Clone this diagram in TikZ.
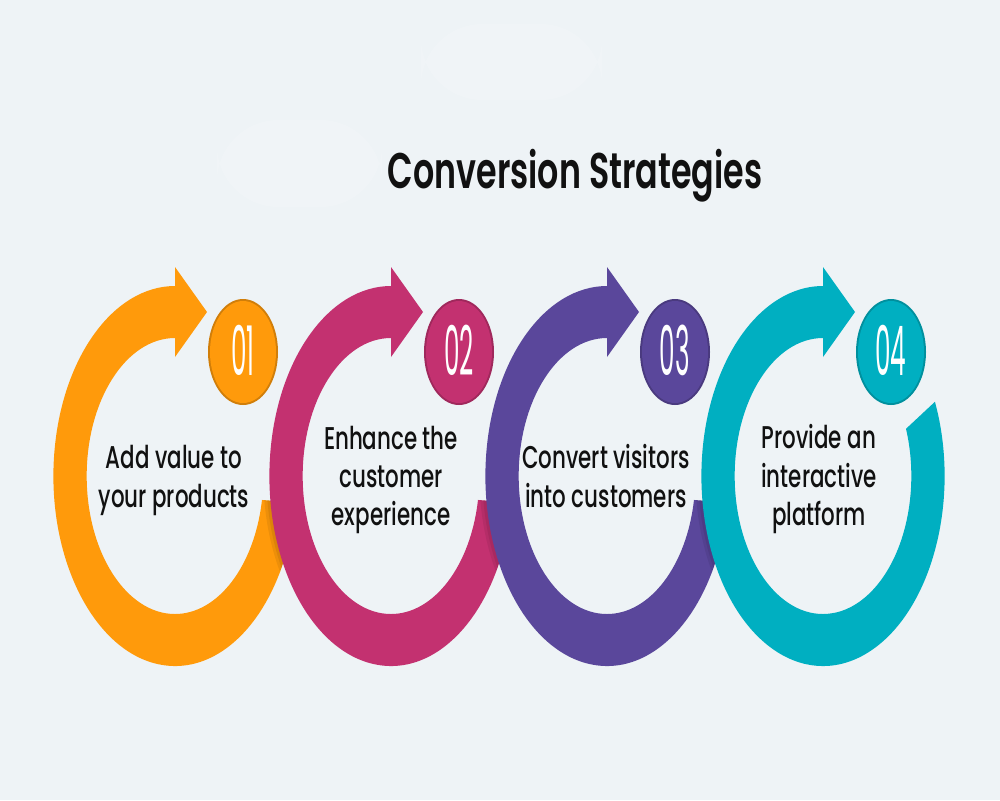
\documentclass[tikz,border=0pt]{standalone}
\usepackage{fontspec}
\setmainfont{Poppins}
\newfontfamily\bodyfont{Poppins Medium}
\newfontfamily\titlefont{Poppins SemiBold}
\definecolor{bg}{HTML}{EEF3F6}
\definecolor{cA}{HTML}{FF9A0B}
\definecolor{cB}{HTML}{C33170}
\definecolor{cC}{HTML}{5A479B}
\definecolor{cD}{HTML}{00AFC1}
\definecolor{txt}{HTML}{111111}
\newcommand\ringpath[2]{(#1:190) arc[start angle=#1, end angle=-270, radius=190] -- (0,209) -- (50,164) -- (0,119) -- (0,138) arc[start angle=-270, end angle=#2, radius=138] -- cycle}
\tikzset{
  ringat/.style={shift={(#1,-476)}, xscale=0.64},
  body/.style={font=\bodyfont\fontsize{17.9}{20}\selectfont, xscale=0.68, text=txt, inner sep=0pt, anchor=base},
  titlest/.style={font=\titlefont\fontsize{28.5}{32}\selectfont, xscale=0.665, text=txt, inner sep=0pt, anchor=base},
  numst/.style={font=\fontsize{39}{40}\selectfont, xscale=0.36, text=white, inner sep=0pt, anchor=base},
  blob/.style={fill=white, opacity=0.14, rounded corners=35pt}
}
\begin{document}
\begin{tikzpicture}[x=0.2mm, y=0.2mm]
\fill[bg] (0,0) rectangle (1000,-800);
\useasboundingbox (0,0) rectangle (1000,-800);
% faint blobs
\fill[blob] (421,-24) rectangle (602,-100);
\fill[blob] (217,-120) rectangle (382,-207);
% ring 1
\fill[cA, ringat=175] \ringpath{-8}{-10};
% shadow of ring 2 on ring 1
\begin{scope}
  \clip[ringat=175] \ringpath{-8}{-10};
  \fill[black, opacity=0.07, ringat=385] \ringpath{-8}{-10};
  \fill[black, opacity=0.07, ringat=388] \ringpath{-8}{-10};
\end{scope}
\fill[cB, ringat=391] \ringpath{-8}{-10};
\begin{scope}
  \clip[ringat=391] \ringpath{-8}{-10};
  \fill[black, opacity=0.07, ringat=601] \ringpath{-8}{-10};
  \fill[black, opacity=0.07, ringat=604] \ringpath{-8}{-10};
\end{scope}
\fill[cC, ringat=607] \ringpath{-8}{-10};
\begin{scope}
  \clip[ringat=607] \ringpath{-8}{-10};
  \fill[black, opacity=0.07, ringat=817] \ringpath{23}{20};
  \fill[black, opacity=0.07, ringat=820] \ringpath{23}{20};
\end{scope}
\fill[cD, ringat=823] \ringpath{23}{20};
% number circles
\foreach \cx/\col/\num [count=\i] in {175/cA/01, 391/cB/02, 607/cC/03, 823/cD/04} {
  \fill[\col!82!black] (\cx+68,-352) ellipse [x radius=35, y radius=53];
  \fill[\col] (\cx+68,-352) ellipse [x radius=33, y radius=51];
  \node[numst] (n\i) at (\cx+68,-375) {\num};
}
% texts
\node[titlest] (title) at (575,-188) {Conversion Strategies};
\node[body] (t1a) at (174,-468) {Add value to};
\node[body] (t1b) at (174,-507) {your products};
\node[body] (t2a) at (391,-449) {Enhance the};
\node[body] (t2b) at (391,-487) {customer};
\node[body] (t2c) at (391,-525) {experience};
\node[body] (t3a) at (606,-468) {Convert visitors};
\node[body] (t3b) at (606,-507) {into customers};
\node[body] (t4a) at (819,-448) {Provide an};
\node[body] (t4b) at (819,-487) {interactive};
\node[body] (t4c) at (819,-525) {platform};
\end{tikzpicture}
\end{document}
